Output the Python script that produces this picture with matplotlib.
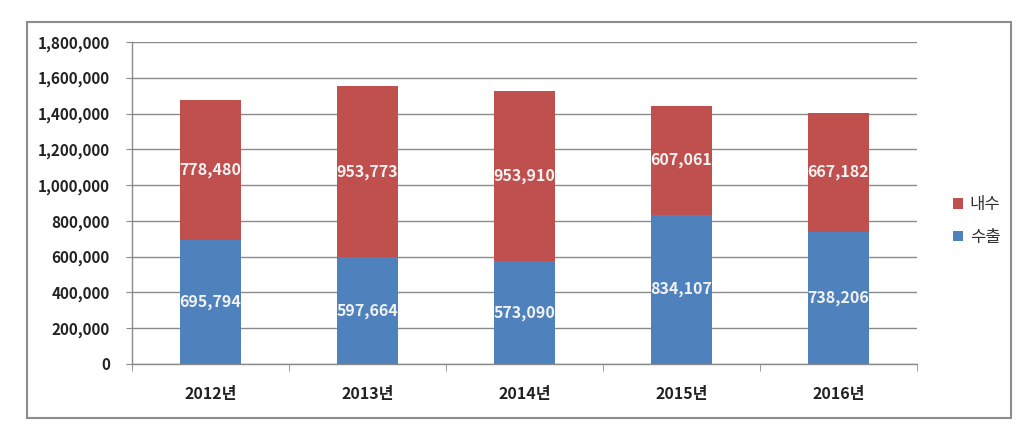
import matplotlib
matplotlib.use("Agg")
import matplotlib.pyplot as plt
import numpy as np
from matplotlib.patches import Rectangle

plt.rcParams['font.family'] = ['Noto Sans CJK KR', 'DejaVu Sans']

categories = ['2012년', '2013년', '2014년', '2015년', '2016년']
export_vals = [695794, 597664, 573090, 834107, 738206]   # 수출
domestic_vals = [778480, 953773, 953910, 607061, 667182]  # 내수
yticks = [0, 200000, 400000, 600000, 800000, 1000000, 1200000, 1400000, 1600000, 1800000]

blue = '#4F81BD'
red = '#C0504D'

fig = plt.figure(figsize=(10.29, 4.28), dpi=100)
fig.patch.set_facecolor('white')
# outer frame
fig.patches.append(Rectangle((27/1029, 1-418/428), (1011-27)/1029, (418-22)/428,
                             transform=fig.transFigure, fill=False,
                             edgecolor='#8c8c8c', linewidth=1.5))

ax = fig.add_axes([132/1029, 1-364/428, (917-132)/1029, (364-42)/428])
x = np.arange(len(categories))
w = 0.39
b1 = ax.bar(x, export_vals, w, color=blue, label='수출', zorder=3)
b2 = ax.bar(x, domestic_vals, w, bottom=export_vals, color=red, label='내수', zorder=3)

for i in range(len(categories)):
    ax.text(x[i], export_vals[i]/2, f'{export_vals[i]:,}', ha='center', va='center',
            color='#f2f2f2', fontsize=11.5, fontweight='bold', zorder=4)
    ax.text(x[i], export_vals[i] + domestic_vals[i]/2, f'{domestic_vals[i]:,}',
            ha='center', va='center', color='#f2f2f2', fontsize=11.5, fontweight='bold', zorder=4)

ax.set_xlim(-0.5, len(categories)-0.5)
ax.set_ylim(0, 1800000)
ax.set_yticks(yticks)
ax.set_yticklabels([f'{v:,}' for v in yticks], fontsize=11, fontweight='bold', color='#222222')
ax.yaxis.grid(True, color='#8a8a8a', linewidth=1, zorder=0)
ax.set_xticks(x)
ax.set_xticklabels(categories, fontsize=11.5, fontweight='bold', color='#222222')
ax.set_xticks(np.arange(-0.5, len(categories), 1), minor=True)
ax.tick_params(axis='x', which='major', length=0, pad=16)
ax.tick_params(axis='x', which='minor', length=5, color='#8a8a8a', direction='out')
ax.tick_params(axis='y', length=4, color='#8a8a8a', pad=12)
for s in ['top', 'right']:
    ax.spines[s].set_visible(False)
for s in ['left', 'bottom']:
    ax.spines[s].set_color('#8a8a8a')
    ax.spines[s].set_linewidth(1)

handles = [b2, b1]
leg = fig.legend(handles, ['내수', '수출'], loc='center left',
                 bbox_to_anchor=(938/1029, 1-221/428), frameon=False,
                 fontsize=12, handlelength=0.6, handleheight=0.6,
                 handletextpad=0.4, labelspacing=0.95)
for t in leg.get_texts():
    t.set_color('#333333')

fig.savefig('out.png', dpi=100, facecolor='white')
